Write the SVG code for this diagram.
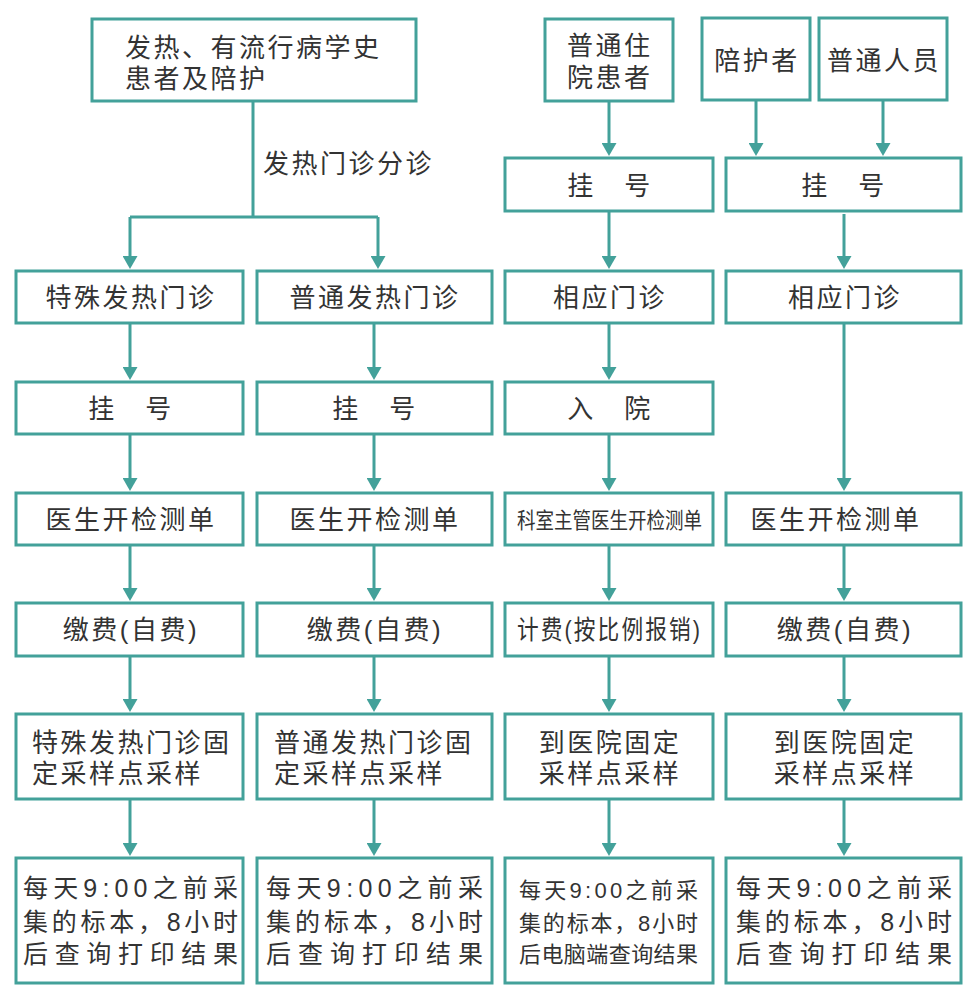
<svg xmlns="http://www.w3.org/2000/svg" width="977" height="1000" viewBox="0 0 977 1000">
<style>
.box{fill:#fff;stroke:#43a19a;stroke-width:3}
.ln{fill:none;stroke:#43a19a;stroke-width:3}
.ar{fill:none;stroke:#43a19a;stroke-width:3;marker-end:url(#ah)}
.t{font-family:"Liberation Sans","Noto Sans CJK SC",sans-serif;font-size:26px;fill:#333;letter-spacing:2.5px;dominant-baseline:central}
.c{text-anchor:middle}
.s{font-size:25px;letter-spacing:0}
.s2{font-size:22px;letter-spacing:0}
</style>
<defs>
<marker id="ah" markerUnits="userSpaceOnUse" viewBox="0 0 13 15" refX="3" refY="7.5" markerWidth="13" markerHeight="15" orient="auto">
<path d="M0,0 L13,7.5 L0,15 z" fill="#43a19a"/>
</marker>
</defs>
<rect width="977" height="1000" fill="#fff"/>

<g id="connectors">
<path class="ln" d="M253,101 V217 M130,217 H378"/>
<path class="ar" d="M130,217 V259"/>
<path class="ar" d="M378,217 V259"/>
<text class="t" x="263" y="164">发热门诊分诊</text>
<path class="ar" d="M130,323 V370"/>
<path class="ar" d="M130,434 V481"/>
<path class="ar" d="M130,545 V591"/>
<path class="ar" d="M130,656 V702"/>
<path class="ar" d="M130,799 V846"/>
<path class="ar" d="M374,323 V370"/>
<path class="ar" d="M374,434 V481"/>
<path class="ar" d="M374,545 V591"/>
<path class="ar" d="M374,656 V702"/>
<path class="ar" d="M374,799 V846"/>
<path class="ar" d="M609,101 V146"/>
<path class="ar" d="M609,211 V259"/>
<path class="ar" d="M609,323 V370"/>
<path class="ar" d="M609,434 V481"/>
<path class="ar" d="M609,545 V591"/>
<path class="ar" d="M609,656 V702"/>
<path class="ar" d="M609,799 V846"/>
<path class="ar" d="M756,100 V146"/>
<path class="ar" d="M883,100 V146"/>
<path class="ar" d="M844,214 V259"/>
<path class="ar" d="M844,323 V481"/>
<path class="ar" d="M844,545 V591"/>
<path class="ar" d="M844,656 V702"/>
<path class="ar" d="M844,799 V846"/>
</g>

<g id="n-top">
<rect class="box" x="92" y="19" width="324" height="82"/>
<text class="t" x="125" y="48">发热、有流行病学史<tspan x="125" dy="31">患者及陪护</tspan></text>
</g>
<g id="n-inpatient">
<rect class="box" x="545" y="19" width="128" height="82"/>
<text class="t" x="567" y="46">普通住<tspan x="567" dy="32">院患者</tspan></text>
</g>
<g id="n-escort">
<rect class="box" x="702" y="18" width="108" height="82"/>
<text class="t c" x="757" y="61">陪护者</text>
</g>
<g id="n-normal">
<rect class="box" x="819" y="18" width="128" height="82"/>
<text class="t c" x="884" y="61">普通人员</text>
</g>

<g id="n-c3-reg">
<rect class="box" x="505" y="158" width="208" height="53"/>
<text class="t c" x="610" y="186">挂　号</text>
</g>
<g id="n-c4-reg">
<rect class="box" x="726" y="158" width="235" height="53"/>
<text class="t c" x="844" y="186">挂　号</text>
</g>

<g id="n-c1-r1"><rect class="box" x="16" y="271" width="227" height="52"/><text class="t c" x="131" y="298">特殊发热门诊</text></g>
<g id="n-c2-r1"><rect class="box" x="257" y="271" width="235" height="52"/><text class="t c" x="375" y="298">普通发热门诊</text></g>
<g id="n-c3-r1"><rect class="box" x="505" y="271" width="208" height="52"/><text class="t c" x="610" y="298">相应门诊</text></g>
<g id="n-c4-r1"><rect class="box" x="726" y="271" width="235" height="52"/><text class="t c" x="845" y="298">相应门诊</text></g>

<g id="n-c1-r2"><rect class="box" x="16" y="382" width="227" height="52"/><text class="t c" x="131" y="409">挂　号</text></g>
<g id="n-c2-r2"><rect class="box" x="257" y="382" width="235" height="52"/><text class="t c" x="375" y="409">挂　号</text></g>
<g id="n-c3-r2"><rect class="box" x="505" y="382" width="208" height="52"/><text class="t c" x="610" y="409">入　院</text></g>

<g id="n-c1-r3"><rect class="box" x="16" y="493" width="227" height="52"/><text class="t c" x="131" y="520">医生开检测单</text></g>
<g id="n-c2-r3"><rect class="box" x="257" y="493" width="235" height="52"/><text class="t c" x="375" y="520">医生开检测单</text></g>
<g id="n-c3-r3"><rect class="box" x="505" y="493" width="208" height="52"/><text class="t s2" x="517" y="520" textLength="185" lengthAdjust="spacingAndGlyphs">科室主管医生开检测单</text></g>
<g id="n-c4-r3"><rect class="box" x="726" y="493" width="235" height="52"/><text class="t c" x="836" y="520">医生开检测单</text></g>

<g id="n-c1-r4"><rect class="box" x="16" y="603" width="227" height="53"/><text class="t c" x="131" y="630">缴费(自费)</text></g>
<g id="n-c2-r4"><rect class="box" x="257" y="603" width="235" height="53"/><text class="t c" x="375" y="630">缴费(自费)</text></g>
<g id="n-c3-r4"><rect class="box" x="505" y="603" width="208" height="53"/><text class="t" x="517" y="630" textLength="185" lengthAdjust="spacingAndGlyphs">计费(按比例报销)</text></g>
<g id="n-c4-r4"><rect class="box" x="726" y="603" width="235" height="53"/><text class="t c" x="845" y="630">缴费(自费)</text></g>

<g id="n-c1-r5"><rect class="box" x="16" y="714" width="227" height="85"/>
<text class="t" x="32" y="743">特殊发热门诊固<tspan x="32" dy="31">定采样点采样</tspan></text></g>
<g id="n-c2-r5"><rect class="box" x="257" y="714" width="235" height="85"/>
<text class="t" x="274" y="743">普通发热门诊固<tspan x="274" dy="31">定采样点采样</tspan></text></g>
<g id="n-c3-r5"><rect class="box" x="505" y="714" width="208" height="85"/>
<text class="t c" x="610" y="743">到医院固定<tspan x="610" dy="31">采样点采样</tspan></text></g>
<g id="n-c4-r5"><rect class="box" x="726" y="714" width="235" height="85"/>
<text class="t c" x="845" y="743">到医院固定<tspan x="845" dy="31">采样点采样</tspan></text></g>

<g id="n-c1-r6"><rect class="box" x="16" y="858" width="227" height="125"/>
<text class="t s" x="23" y="888"><tspan textLength="215">每天9:00之前采</tspan><tspan x="23" dy="34" textLength="215">集的标本，8小时</tspan><tspan x="23" dy="32" textLength="215">后查询打印结果</tspan></text></g>
<g id="n-c2-r6"><rect class="box" x="257" y="858" width="235" height="125"/>
<text class="t s" x="266" y="888"><tspan textLength="217">每天9:00之前采</tspan><tspan x="266" dy="34" textLength="217">集的标本，8小时</tspan><tspan x="266" dy="32" textLength="217">后查询打印结果</tspan></text></g>
<g id="n-c3-r6"><rect class="box" x="505" y="858" width="208" height="125"/>
<text class="t s2" x="519" y="890"><tspan textLength="179">每天9:00之前采</tspan><tspan x="519" dy="33" textLength="179">集的标本，8小时</tspan><tspan x="519" dy="31" textLength="179">后电脑端查询结果</tspan></text></g>
<g id="n-c4-r6"><rect class="box" x="726" y="858" width="235" height="125"/>
<text class="t s" x="736" y="888"><tspan textLength="216">每天9:00之前采</tspan><tspan x="736" dy="34" textLength="216">集的标本，8小时</tspan><tspan x="736" dy="32" textLength="216">后查询打印结果</tspan></text></g>
</svg>
